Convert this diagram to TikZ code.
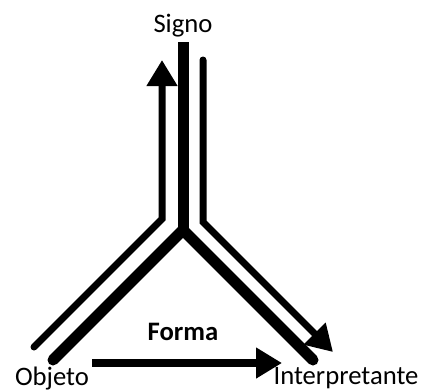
\documentclass[tikz,border=0pt]{standalone}
\usepackage{fontspec}
\setmainfont{Carlito}
\usetikzlibrary{arrows.meta}
\begin{document}
\begin{tikzpicture}[x=0.75pt, y=-0.75pt,
  grueso/.style={line width=8.25pt},
  fino/.style={line width=5.25pt, line cap=round},
  punta/.style={-{Triangle[length=19.5pt, width=22pt]}},
  rotulo/.style={font=\fontsize{20}{24}\selectfont, anchor=base}]
  \useasboundingbox (0,0) rectangle (424,390);
  % puntos del signo
  \coordinate (centro) at (183,230);
  \coordinate (arriba) at (183,42);
  \coordinate (izq) at (53,360);
  \coordinate (der) at (313,360);
  \coordinate (izqbaja) at (34,347);
  \coordinate (izqcodo) at (162,219);
  \coordinate (izqalta) at (162,60);
  \coordinate (deralta) at (203,60);
  \coordinate (dercodo) at (203,222);
  \coordinate (derbaja) at (333,352);
  \coordinate (formaini) at (92,363);
  \coordinate (formafin) at (282,363);
  % la Y
  \draw[grueso, line cap=round, line join=miter] (izq) -- (centro) -- (der);
  \draw[grueso] (centro) -- (arriba);
  \draw[fino, punta] (izqbaja) -- (izqcodo) -- (izqalta);
  \draw[fino, punta] (deralta) -- (dercodo) -- (derbaja);
  \draw[line width=6pt, punta] (formaini) -- (formafin);
  % textos
  \node[rotulo] (signo) at (183,32) {Signo};
  \node[rotulo] (objeto) at (52,385) {Objeto};
  \node[rotulo] (interpretante) at (346,384) {Interpretante};
  \node[rotulo, font=\fontsize{20}{24}\selectfont\bfseries] (forma) at (183,340) {Forma};
\end{tikzpicture}
\end{document}
